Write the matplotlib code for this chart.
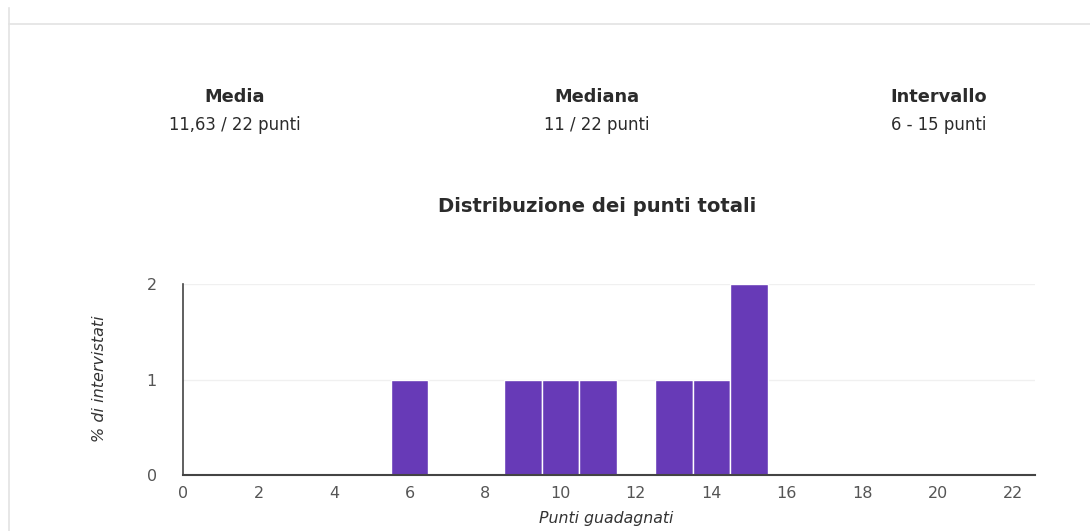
import matplotlib
matplotlib.use("Agg")
import matplotlib.pyplot as plt
from matplotlib.lines import Line2D

# ---- data ----
points = list(range(0, 23))
counts = [0, 0, 0, 0, 0, 0, 1, 0, 0, 1, 1, 1, 0, 1, 1, 2, 0, 0, 0, 0, 0, 0, 0]
x_ticks = [0, 2, 4, 6, 8, 10, 12, 14, 16, 18, 20, 22]
y_ticks = [0, 1, 2]
stat_titles = ["Media", "Mediana", "Intervallo"]
stat_values = ["11,63 / 22 punti", "11 / 22 punti", "6 - 15 punti"]
chart_title = "Distribuzione dei punti totali"
x_label = "Punti guadagnati"
y_label = "% di intervistati"

W, H = 1090, 531
plt.rcParams['font.family'] = ['DejaVu Sans']
fig = plt.figure(figsize=(W / 100, H / 100), dpi=100)
fig.patch.set_facecolor('white')

def fx(px):
    return px / W

def fy(py):
    return 1 - py / H

# card border lines
fig.add_artist(Line2D([fx(8.5), fx(8.5)], [fy(8), fy(531)], color='#e3e3e3', lw=1.2))
fig.add_artist(Line2D([fx(9), fx(1090)], [fy(23.5), fy(23.5)], color='#e3e3e3', lw=1.2))

# summary stats
stat_x = [235, 597, 939]
for sx, t, v in zip(stat_x, stat_titles, stat_values):
    fig.text(fx(sx), fy(97), t, ha='center', va='center', fontsize=12.8,
             fontweight='bold', color='#2b2b2b')
    fig.text(fx(sx), fy(125), v, ha='center', va='center', fontsize=11.9,
             color='#2b2b2b')

fig.text(fx(597), fy(206), chart_title, ha='center', va='center', fontsize=14.1,
         fontweight='bold', color='#2b2b2b')

ax = fig.add_axes([fx(183.3), fy(475), fx(1035) - fx(183.3), fy(284) - fy(475)])
ax.bar(points, counts, width=1.0, color='#673ab7', edgecolor='white', linewidth=1.0, zorder=3)
ax.set_xlim(0, 22.58)
ax.set_ylim(0, 2)
ax.set_xticks(x_ticks)
ax.set_yticks(y_ticks)
ax.tick_params(axis='both', length=0, labelsize=11.5, labelcolor='#555555')
ax.tick_params(axis='x', pad=8)
ax.tick_params(axis='y', pad=19)
ax.grid(axis='y', color='#f0f0f0', lw=1, zorder=0)
for s in ['top', 'right']:
    ax.spines[s].set_visible(False)
ax.spines['left'].set_color('#444444')
ax.spines['bottom'].set_color('#444444')
ax.spines['left'].set_linewidth(1.2)
ax.spines['bottom'].set_linewidth(1.5)
ax.spines['bottom'].set_zorder(4)

fig.text(fx(606), fy(519), x_label, ha='center', va='center', fontsize=11.3,
         style='italic', color='#333333')
fig.text(fx(100), fy(379), y_label, ha='center', va='center', fontsize=11.5,
         style='italic', color='#333333', rotation=90)

fig.savefig('out.png', dpi=100, facecolor='white')
